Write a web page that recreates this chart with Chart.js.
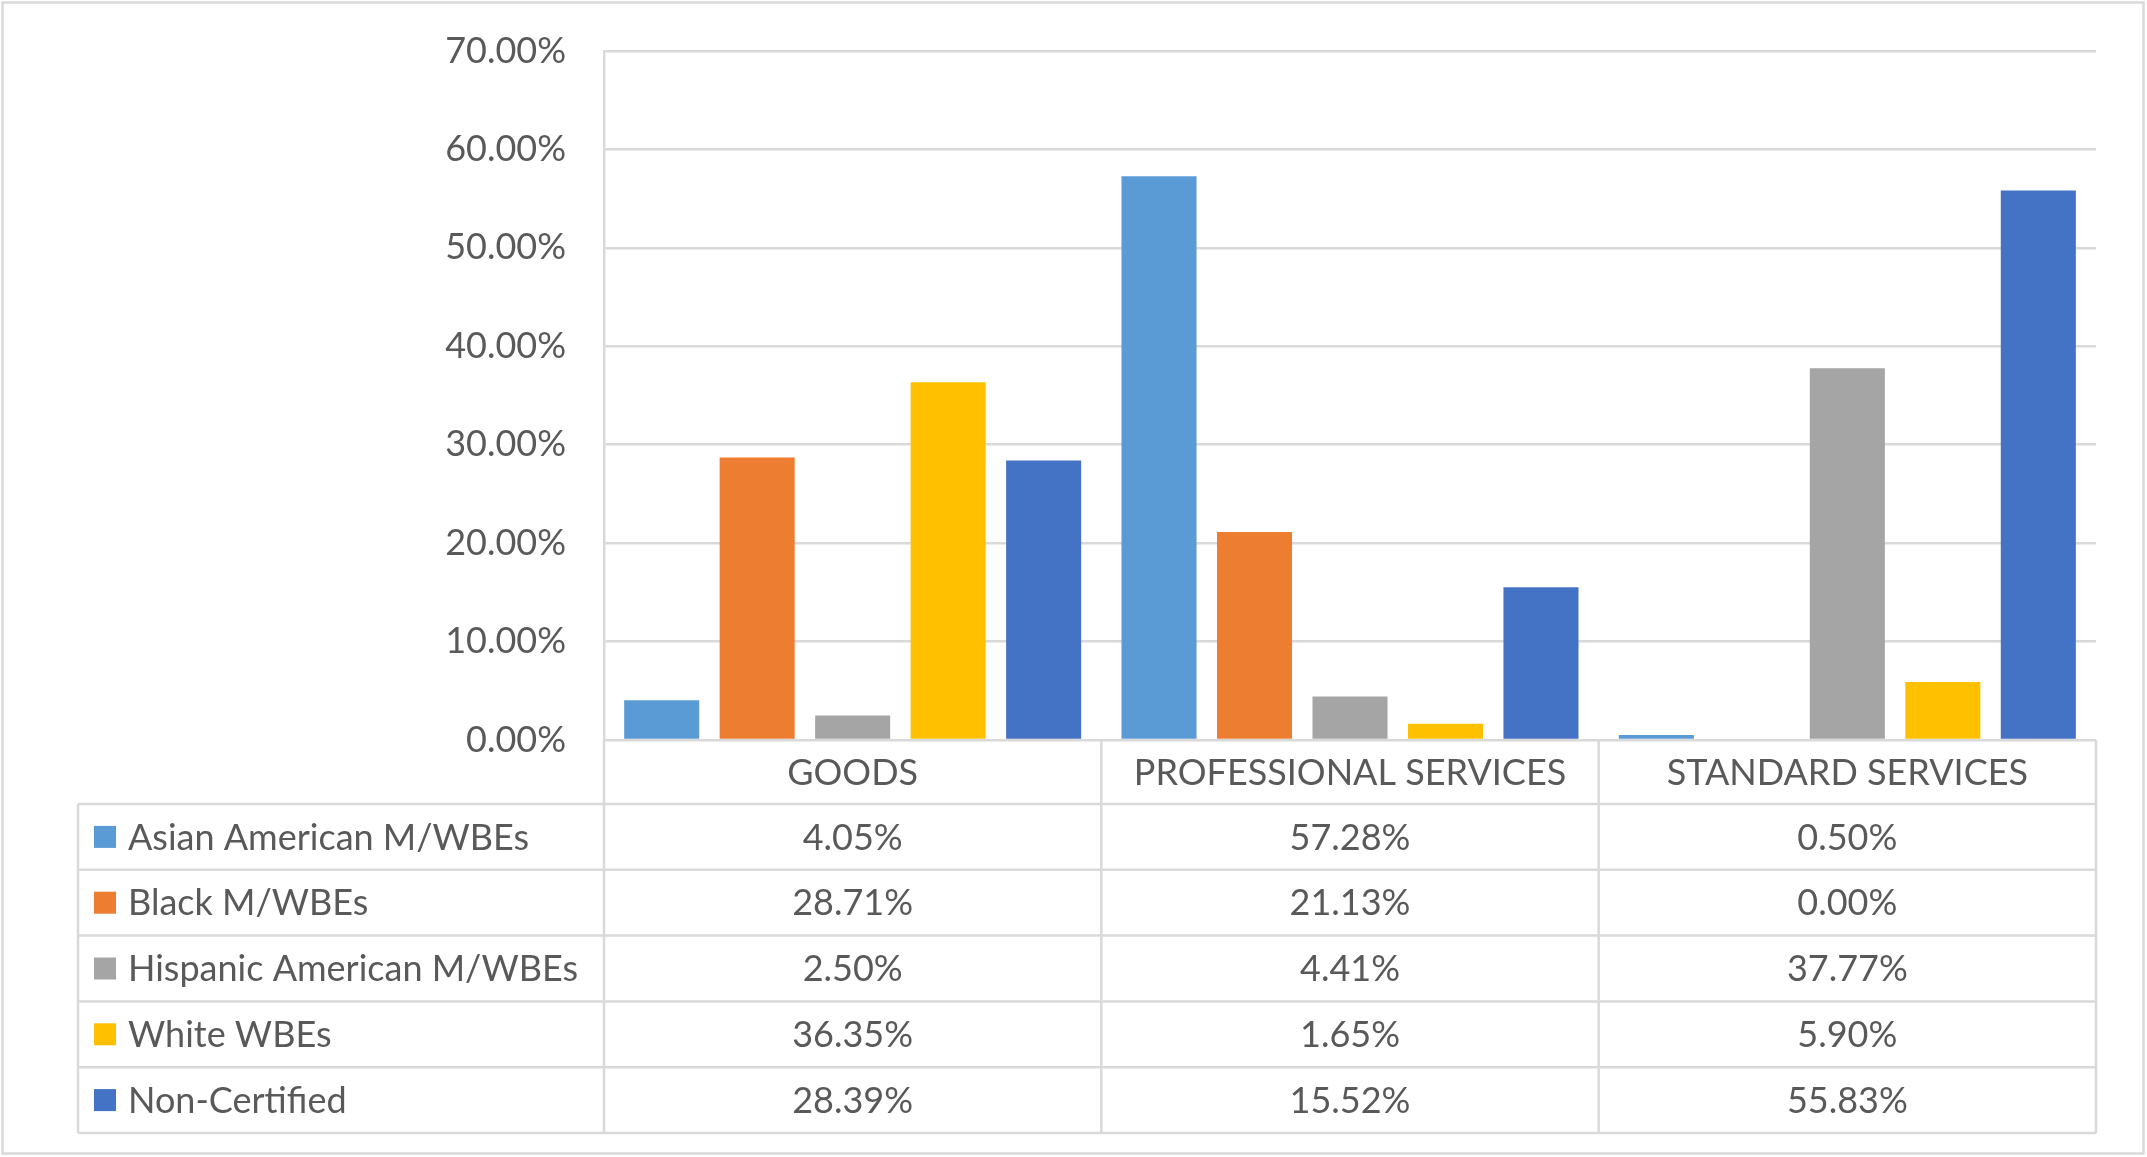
<!DOCTYPE html>
<html>
<head>
<meta charset="utf-8">
<script src="https://cdn.jsdelivr.net/npm/chart.js@4.4.1/dist/chart.umd.min.js"></script>
<style>
html,body{margin:0;padding:0;background:#fff;}
#wrap{width:2147px;height:1157px;position:relative;}
</style>
</head>
<body>
<div id="wrap"><canvas id="c" width="2147" height="1157"></canvas></div>
<script>
const categories = ["GOODS", "PROFESSIONAL SERVICES", "STANDARD SERVICES"];
const seriesNames = ["Asian American M/WBEs", "Black M/WBEs", "Hispanic American M/WBEs", "White WBEs", "Non-Certified"];
const asianAmerican = [4.05, 57.28, 0.50];
const black = [28.71, 21.13, 0.00];
const hispanicAmerican = [2.50, 4.41, 37.77];
const whiteWBEs = [36.35, 1.65, 5.90];
const nonCertified = [28.39, 15.52, 55.83];
const seriesColors = ["#5B9BD5", "#ED7D31", "#A5A5A5", "#FFC000", "#4472C4"];
const yTicks = [0, 10, 20, 30, 40, 50, 60, 70];

const seriesValues = [asianAmerican, black, hispanicAmerican, whiteWBEs, nonCertified];
const FONT = "Lato, 'Open Sans', sans-serif";
const TEXT = "#595959";
const LINE = "#D9D9D9";
const fmt = v => v.toFixed(2) + "%";

const tablePlugin = {
  id: "dataTable",
  afterDraw(chart) {
    const ctx = chart.ctx;
    const ca = chart.chartArea;
    const xs = chart.scales.x;
    const tableBottom = 1133;
    const headerH = 64;
    const rowH = (tableBottom - ca.bottom - headerH) / seriesNames.length;
    const tableLeft = 78;
    const catW = (ca.right - ca.left) / categories.length;
    ctx.save();
    ctx.strokeStyle = LINE;
    ctx.lineWidth = 2.5;
    ctx.strokeRect(2.5, 2.5, 2141, 1151);
    ctx.beginPath();
    for (let i = 0; i <= categories.length; i++) {
      const x = ca.left + catW * i;
      ctx.moveTo(x, ca.bottom);
      ctx.lineTo(x, tableBottom);
    }
    ctx.moveTo(tableLeft, ca.bottom + headerH);
    ctx.lineTo(tableLeft, tableBottom);
    for (let r = 0; r <= seriesNames.length; r++) {
      const y = ca.bottom + headerH + rowH * r;
      ctx.moveTo(tableLeft, y);
      ctx.lineTo(ca.right, y);
    }
    ctx.stroke();
    ctx.font = "36px " + FONT;
    ctx.fillStyle = TEXT;
    ctx.textBaseline = "middle";
    for (let r = 0; r < seriesNames.length; r++) {
      const yc = ca.bottom + headerH + rowH * r + rowH / 2;
      ctx.fillStyle = seriesColors[r];
      ctx.fillRect(94, yc - 11, 22, 22);
      ctx.fillStyle = TEXT;
      ctx.textAlign = "left";
      ctx.fillText(seriesNames[r], 128, yc + 1);
      ctx.textAlign = "center";
      for (let c = 0; c < categories.length; c++) {
        const xc = xs.getPixelForValue(c);
        ctx.fillText(fmt(seriesValues[r][c]), xc, yc + 1);
      }
    }
    ctx.restore();
  }
};

new Chart(document.getElementById("c"), {
  type: "bar",
  data: {
    labels: categories,
    datasets: seriesNames.map((n, i) => ({
      label: n,
      data: seriesValues[i],
      backgroundColor: seriesColors[i],
      borderWidth: 0,
      categoryPercentage: 0.96,
      barPercentage: 0.786
    }))
  },
  options: {
    responsive: false,
    animation: false,
    devicePixelRatio: 1,
    layout: { padding: { top: 51, left: 0, right: 51, bottom: 24 } },
    plugins: { legend: { display: false }, tooltip: { enabled: false } },
    scales: {
      x: {
        grid: { display: false, drawTicks: false },
        border: { display: false },
        ticks: { color: TEXT, font: { family: FONT, size: 36 }, padding: 12, maxRotation: 0, autoSkip: false },
        afterFit(s) { s.height = 393; s.paddingLeft = 0; s.paddingRight = 0; }
      },
      y: {
        min: 0, max: 70,
        afterBuildTicks(s) { s.ticks = yTicks.map(v => ({ value: v })); },
        grid: { color: LINE, lineWidth: 2.5, drawTicks: false },
        border: { display: true, color: LINE, width: 2.5 },
        ticks: { color: TEXT, font: { family: FONT, size: 36 }, padding: 38, callback: v => fmt(v) },
        afterFit(s) { s.width = 604; s.paddingTop = 0; s.paddingBottom = 0; }
      }
    }
  },
  plugins: [tablePlugin]
});
</script>
</body>
</html>
